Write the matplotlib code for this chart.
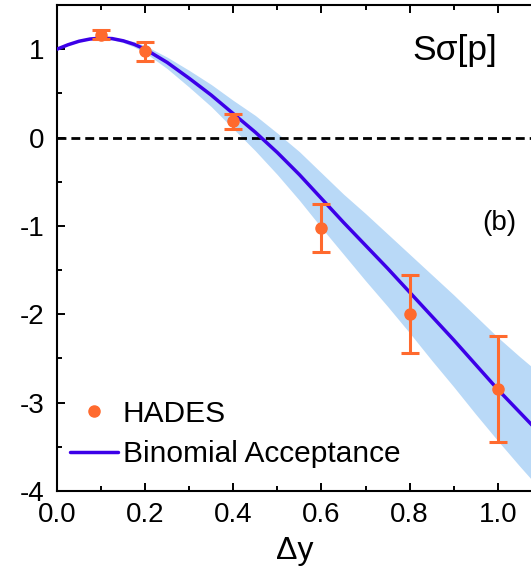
import matplotlib
matplotlib.use("Agg")
import matplotlib.pyplot as plt
from matplotlib.ticker import MultipleLocator

plt.rcParams['font.family'] = ['Liberation Sans', 'DejaVu Sans']

# HADES data
hades_x = [0.1, 0.2, 0.4, 0.6, 0.8, 1.0]
hades_y = [1.16, 0.98, 0.19, -1.02, -2.00, -2.85]
hades_err_up = [0.06, 0.10, 0.08, 0.27, 0.44, 0.60]
hades_err_dn = [0.05, 0.11, 0.09, 0.28, 0.44, 0.59]

# Binomial acceptance curve
curve_x = [0.000, 0.025, 0.050, 0.075, 0.100, 0.125, 0.150, 0.175, 0.200, 0.25,
           0.30, 0.35, 0.40, 0.45, 0.50, 0.55, 0.60, 0.65, 0.70, 0.75, 0.80,
           0.85, 0.90, 0.95, 1.00, 1.05, 1.10]
curve_y = [1.00, 1.05, 1.09, 1.115, 1.125, 1.12, 1.095, 1.055, 1.00, 0.85,
           0.67, 0.48, 0.27, 0.06, -0.17, -0.42, -0.69, -0.96, -1.22, -1.48, -1.75,
           -2.02, -2.29, -2.57, -2.85, -3.11, -3.37]
band_up = [0.00, 0.003, 0.005, 0.008, 0.01, 0.015, 0.02, 0.03, 0.04, 0.06,
           0.09, 0.12, 0.15, 0.19, 0.22, 0.26, 0.29, 0.32, 0.36, 0.39, 0.43,
           0.47, 0.51, 0.55, 0.59, 0.63, 0.68]
band_dn = [0.00, 0.003, 0.005, 0.008, 0.01, 0.015, 0.02, 0.03, 0.04, 0.07,
           0.10, 0.13, 0.17, 0.21, 0.25, 0.29, 0.33, 0.36, 0.40, 0.43, 0.46,
           0.50, 0.53, 0.56, 0.58, 0.61, 0.63]

orange = '#ff6a2e'
blue = '#3c00e8'
band_col = '#b9d9f7'

W, H = 531, 569
fig = plt.figure(figsize=(W / 100, H / 100), dpi=100)
ax = fig.add_axes([57 / W, (H - 491) / H, (533 - 57) / W, (491 - 5) / H])

upper = [c + u for c, u in zip(curve_y, band_up)]
lower = [c - d for c, d in zip(curve_y, band_dn)]
ax.fill_between(curve_x, lower, upper, color=band_col, lw=0, zorder=1)
ax.axhline(0, color='black', lw=2, linestyle=(0, (3.2, 1.8)), zorder=2)
line, = ax.plot(curve_x, curve_y, color=blue, lw=2.5, zorder=3,
                solid_capstyle='round', solid_joinstyle='round',
                label='Binomial Acceptance')
ax.errorbar(hades_x, hades_y, yerr=[hades_err_dn, hades_err_up], fmt='none',
            ecolor=orange, elinewidth=2.2, capsize=6.5, capthick=2.2, zorder=4)
pts, = ax.plot(hades_x, hades_y, 'o', color=orange, ms=8, zorder=5, label='HADES')

ax.set_xlim(0, 1.08)
ax.set_ylim(-4, 1.5)
ax.xaxis.set_minor_locator(MultipleLocator(0.1))
ax.yaxis.set_minor_locator(MultipleLocator(0.5))
ax.set_xticks([0.0, 0.2, 0.4, 0.6, 0.8, 1.0])
ax.set_xticklabels(['0.0', '0.2', '0.4', '0.6', '0.8', '1.0'])
ax.set_yticks([-4, -3, -2, -1, 0, 1])
ax.set_yticklabels(['-4', '-3', '-2', '-1', '0', '1'])
ax.tick_params(which='both', direction='in', top=True, right=False, width=1.4,
               labelsize=20)
ax.tick_params(which='major', length=6)
ax.tick_params(axis='x', which='major', pad=8)
ax.tick_params(axis='y', which='major', pad=9)
ax.tick_params(which='minor', length=3.5)
for s in ax.spines.values():
    s.set_linewidth(1.5)

ax.set_xlabel('Δy', fontsize=23, labelpad=6)

ax.text(0.836, 0.907, 'Sσ[p]', transform=ax.transAxes, fontsize=25.5,
        ha='center', va='center')
ax.text(0.929, 0.551, '(b)', transform=ax.transAxes, fontsize=20,
        ha='center', va='center')

ax.legend([pts, line], ['HADES', 'Binomial Acceptance'],
          loc='lower left', bbox_to_anchor=(0.027, 0.047), frameon=False,
          fontsize=21.5, handlelength=1.6, handletextpad=0.17, labelspacing=0.42,
          borderaxespad=0, borderpad=0)

fig.savefig('out.png', dpi=100)
